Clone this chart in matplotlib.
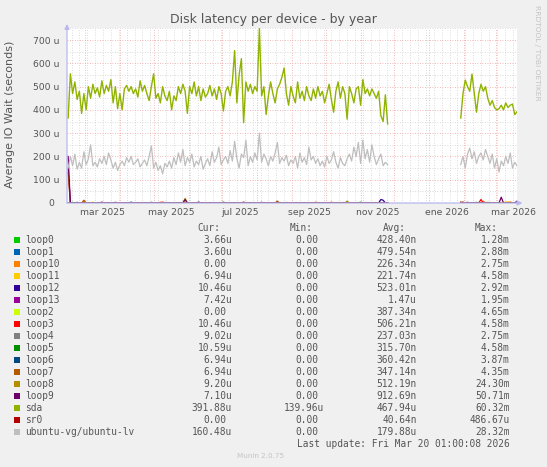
import matplotlib
matplotlib.use('Agg')
import matplotlib.pyplot as plt
import matplotlib.dates as mdates
from matplotlib.patches import Rectangle
from matplotlib.transforms import blended_transform_factory
import numpy as np
import datetime as dt

# ---------------- data ----------------
title = "Disk latency per device - by year"
ylabel = "Average IO Wait (seconds)"

# sda (microseconds), 2-day samples from 2025-02-14
sda_a = [365, 555, 470, 520, 445, 480, 385, 470, 400, 500,
         450, 510, 470, 495, 455, 525, 470, 505, 480, 530,
         430, 500, 405, 470, 400, 490, 505, 480, 500, 470,
         490, 455, 525, 480, 505, 470, 440, 500, 555, 450,
         470, 430, 500, 460, 440, 480, 400, 460, 440, 500,
         470, 510, 480, 385, 500, 470, 520, 460, 500, 440,
         490, 455, 470, 505, 460, 490, 445, 500, 470, 395,
         480, 500, 460, 520, 655, 430, 550, 620, 345, 520,
         480, 510, 470, 500, 480, 750, 460, 500, 380, 460,
         520, 470, 430, 490, 510, 540, 580, 470, 420, 500,
         460, 430, 520, 450, 480, 440, 500, 460, 440, 490,
         450, 500, 460, 480, 430, 470, 510, 445, 390, 480,
         520, 450, 500, 470, 360, 500, 470, 430, 490, 500,
         420, 530, 470, 490, 460, 490, 470, 450, 480, 375,
         350, 465, 340]
# sda, 2-day samples from 2026-01-29
sda_b = [365, 470, 528, 500, 480, 554, 470, 390, 470, 510,
         480, 500, 450, 420, 440, 410, 400, 405, 420, 400,
         430, 410, 420, 425, 380, 392]

lv_a = [150, 200, 160, 210, 145, 175, 150, 220, 165, 190,
        250, 160, 175, 155, 190, 170, 200, 165, 215, 185,
        150, 175, 140, 165, 180, 160, 195, 175, 200, 165,
        175, 190, 155, 170, 185, 160, 200, 245, 150, 175,
        140, 160, 125, 170, 155, 180, 150, 195, 165, 215,
        175, 230, 160, 195, 175, 210, 155, 180, 165, 200,
        145, 170, 190, 160, 220, 175, 195, 240, 165, 185,
        200, 170, 225, 180, 265, 190, 150, 210, 195, 270,
        160, 200, 175, 215, 185, 300, 175, 210, 190, 160,
        200, 180, 215, 260, 170, 195, 180, 205, 160, 185,
        170, 200, 150, 215, 175, 195, 165, 240, 185, 200,
        170, 190, 160, 180, 155, 200, 170, 185, 220, 175,
        150, 195, 170, 160, 190, 210, 180, 240, 200, 260,
        170, 270, 190, 230, 175, 250, 200, 165, 190, 210,
        160, 175, 165]
lv_b = [165, 200, 150, 210, 236, 190, 220, 170, 200, 215,
        185, 230, 200, 170, 210, 150, 190, 133, 180, 160,
        200, 170, 215, 150, 175, 160]

# small spikes of the loop devices / sr0: {sample index: value (u)}
spikes_a = {
    'loop0': {2: 3, 130: 4},
    'loop1': {4: 3, 28: 4, 37: 3},
    'loop10': {7: 8, 41: 4, 110: 4, 117: 4},
    'loop11': {52: 10},
    'loop12': {21: 3, 58: 4, 86: 3, 139: 15, 140: 12},
    'loop13': {0: 150, 15: 4},
    'loop2': {11: 4},
    'loop3': {42: 4},
    'loop4': {},
    'loop5': {69: 4},
    'loop6': {},
    'loop7': {0: 130, 7: 12, 93: 8},
    'loop8': {52: 20, 124: 8},
    'loop9': {0: 200, 52: 15},
    'sr0': {78: 4, 93: 4},
}
spikes_b = {
    'loop0': {7: 3, 12: 3},
    'loop1': {},
    'loop10': {10: 8, 22: 5},
    'loop11': {13: 3, 20: 5, 21: 5},
    'loop12': {3: 3},
    'loop13': {},
    'loop2': {},
    'loop3': {9: 15},
    'loop4': {},
    'loop5': {},
    'loop6': {},
    'loop7': {0: 5},
    'loop8': {},
    'loop9': {18: 25, 25: 8},
    'sr0': {1: 4},
}

names = ['loop0', 'loop1', 'loop10', 'loop11', 'loop12', 'loop13', 'loop2',
         'loop3', 'loop4', 'loop5', 'loop6', 'loop7', 'loop8', 'loop9',
         'sda', 'sr0', 'ubuntu-vg/ubuntu-lv']
colors = ['#00CC00', '#0066B3', '#FF8000', '#FFCC00', '#330099', '#990099',
          '#CCFF00', '#FF0000', '#808080', '#008F00', '#00487D', '#B35A00',
          '#B38F00', '#6B006B', '#8FB300', '#B30000', '#BEBEBE']
cur = ['3.66u', '3.60u', '0.00', '6.94u', '10.46u', '7.42u', '0.00', '10.46u',
       '9.02u', '10.59u', '6.94u', '6.94u', '9.20u', '7.10u', '391.88u', '0.00',
       '160.48u']
mins = ['0.00'] * 14 + ['139.96u', '0.00', '0.00']
avgs = ['428.40n', '479.54n', '226.34n', '221.74n', '523.01n', '1.47u',
        '387.34n', '506.21n', '237.03n', '315.70n', '360.42n', '347.14n',
        '512.19n', '912.69n', '467.94u', '40.64n', '179.88u']
maxs = ['1.28m', '2.88m', '2.75m', '4.58m', '2.92m', '1.95m', '4.65m', '4.58m',
        '2.75m', '4.58m', '3.87m', '4.35m', '24.30m', '50.71m', '60.32m',
        '486.67u', '28.32m']
yticks = [0, 100, 200, 300, 400, 500, 600, 700]
ytick_labels = ['0', '100 u', '200 u', '300 u', '400 u', '500 u', '600 u', '700 u']
xlabels = ['mar 2025', 'may 2025', 'jul 2025', 'sep 2025', 'nov 2025',
           'ene 2026', 'mar 2026']
xlabel_months = [(2025, 3), (2025, 5), (2025, 7), (2025, 9), (2025, 11),
                 (2026, 1), (2026, 3)]
last_update = "Last update: Fri Mar 20 01:00:08 2026"

# ---------------- figure ----------------
W, H = 547, 467
fig = plt.figure(figsize=(W / 100, H / 100), dpi=100, facecolor='#F0F0F0')
TXT = '#555555'


def fx(x):
    return x / W


def fy(y):
    return 1 - y / H


ax = fig.add_axes([fx(67), fy(203), 450 / W, (203 - 28.4) / H])
ax.set_facecolor('white')

t0 = dt.datetime(2025, 2, 13)
t1 = dt.datetime(2026, 3, 20)
start_a = dt.datetime(2025, 2, 14)
start_b = dt.datetime(2026, 1, 29)
dates_a = [start_a + dt.timedelta(days=2 * i) for i in range(len(sda_a))]
dates_b = [start_b + dt.timedelta(days=2 * i) for i in range(len(sda_b))]
dates = dates_a + [dates_a[-1] + dt.timedelta(days=1)] + dates_b


def series(a, b):
    return np.array(list(a) + [np.nan] + list(b), dtype=float)


def spike_series(name):
    a = np.zeros(len(sda_a))
    b = np.zeros(len(sda_b))
    for k, v in spikes_a[name].items():
        a[k] = v
    for k, v in spikes_b[name].items():
        b[k] = v
    return series(a, b)


# grid
ax.xaxis.set_major_locator(mdates.MonthLocator())
ax.xaxis.set_minor_locator(mdates.WeekdayLocator(byweekday=mdates.MO))
ax.set_yticks(yticks)
ax.set_yticks(np.arange(50, 760, 100), minor=True)
ax.grid(True, which='minor', color='#cfcfcf', linestyle=(0, (1, 2)), lw=0.6)
ax.grid(True, which='major', color='#f2a0a0', linestyle=(0, (1, 2)), lw=0.6)
ax.set_axisbelow(True)

order = ['sr0'] + [n for n in names if n.startswith('loop')]
for n in order:
    ax.plot(dates, spike_series(n), color=colors[names.index(n)], lw=0.9)
ax.plot(dates, series(sda_a, sda_b), color=colors[names.index('sda')], lw=1.0)
ax.plot(dates, series(lv_a, lv_b), color=colors[names.index('ubuntu-vg/ubuntu-lv')], lw=0.9)

ax.set_xlim(t0, t1)
ax.set_ylim(0, 750)
for s in ax.spines.values():
    s.set_visible(False)
ax.tick_params(which='both', length=0)
ax.set_xticklabels([])
ax.set_yticklabels(ytick_labels)
ax.tick_params(axis='y', labelsize=6.7, labelcolor=TXT, pad=5.5)
ax.yaxis.get_major_ticks()[0].set_pad(9.4)

axc = '#b8b8ee'
ax.annotate('', xy=(1.012, 0), xytext=(0, 0), xycoords='axes fraction',
            arrowprops=dict(arrowstyle='-|>', color=axc, lw=0.9, mutation_scale=7,
                            shrinkA=0, shrinkB=0), annotation_clip=False)
ax.annotate('', xy=(0, 1.025), xytext=(0, 0), xycoords='axes fraction',
            arrowprops=dict(arrowstyle='-|>', color=axc, lw=0.9, mutation_scale=7,
                            shrinkA=0, shrinkB=0), annotation_clip=False)

tr = blended_transform_factory(ax.transData, ax.transAxes)
for lab, (yy, mm) in zip(xlabels, xlabel_months):
    xd = mdates.date2num(dt.datetime(yy, mm, 1) + dt.timedelta(days=15.5))
    ax.text(xd, -9.5 / 174.6, lab, transform=tr, ha='center', va='center',
            fontsize=6.7, color=TXT, clip_on=False)

fig.text(fx(273.5), fy(19), title, ha='center', va='center', fontsize=9, color=TXT)
fig.text(fx(10.5), fy(114), ylabel, ha='center', va='center', rotation=90,
         fontsize=8, color=TXT)
fig.text(fx(537), fy(53), 'RRDTOOL / TOBI OETIKER', ha='center', va='center',
         rotation=270, fontsize=5.4, color='#c4c4c4')

# legend
mono = 'DejaVu Sans Mono'
fs = 6.85
cw = 5.7
for xr, h in zip([232, 324, 417, 509.5], ['Cur:', 'Min:', 'Avg:', 'Max:']):
    fig.text(fx(xr - 2 * cw), fy(227.7), h, ha='right', va='center',
             family=mono, fontsize=fs, color=TXT)
for i, n in enumerate(names):
    yy = 239.7 + 12 * i
    fig.add_artist(Rectangle((fx(13.5), fy(yy + 3)), 6 / W, 6 / H,
                             transform=fig.transFigure, color=colors[i], lw=0))
    fig.text(fx(25), fy(yy), n, ha='left', va='center', family=mono,
             fontsize=fs, color=TXT)
    for xr, col in zip([232, 324, 417, 509.5], [cur, mins, avgs, maxs]):
        s = col[i]
        xo = xr if s[-1].isalpha() else xr - cw
        fig.text(fx(xo), fy(yy), s, ha='right', va='center', family=mono,
                 fontsize=fs, color=TXT)
fig.text(fx(509.5), fy(443.7), last_update, ha='right', va='center',
         family=mono, fontsize=fs, color=TXT)
fig.text(fx(260.7), fy(455.7), 'Munin 2.0.75', ha='center', va='center',
         fontsize=5.2, color='#c4c4c4')

fig.savefig('out.png', dpi=100, facecolor=fig.get_facecolor())
